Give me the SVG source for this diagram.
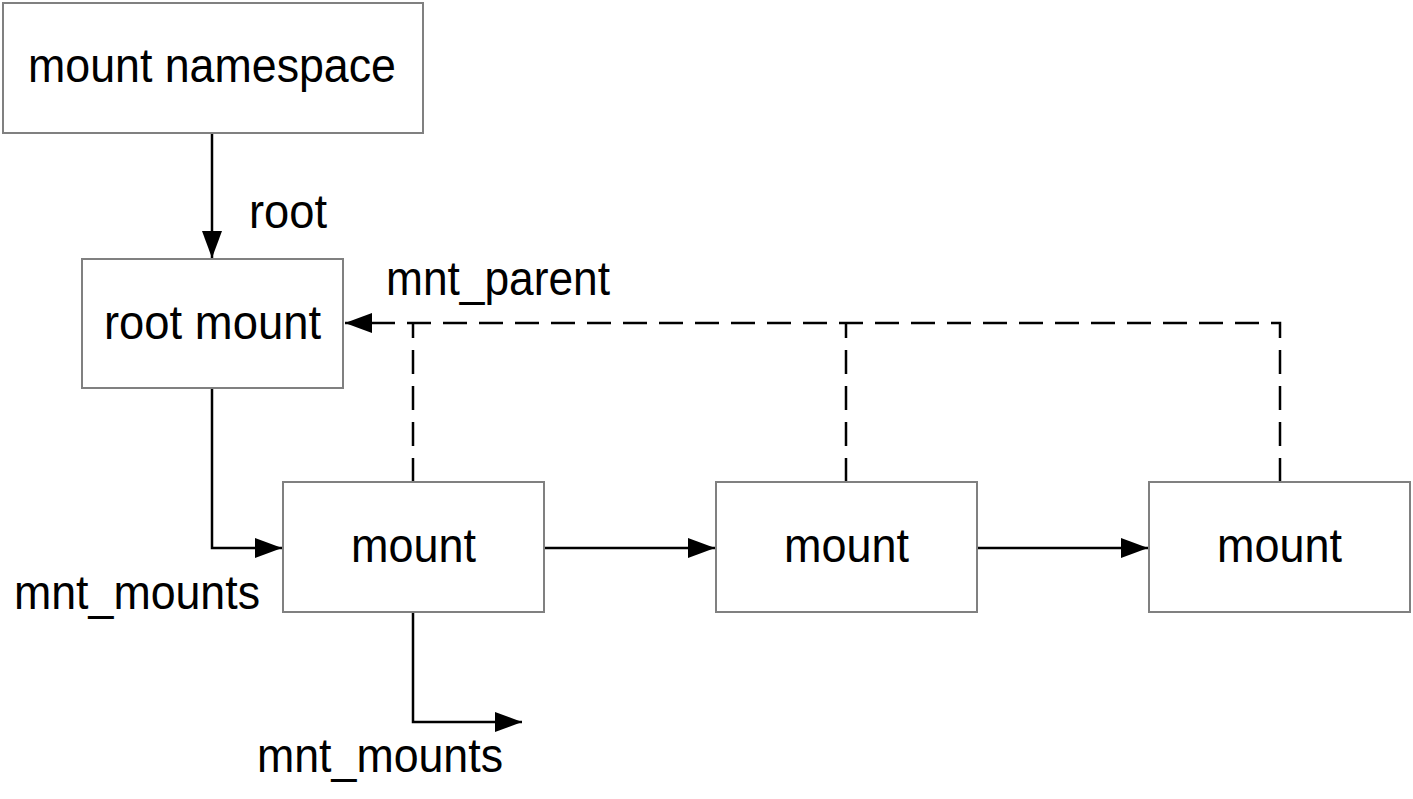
<svg xmlns="http://www.w3.org/2000/svg" width="1413" height="799" viewBox="0 0 1413 799">
  <style>
    .box { fill: #ffffff; stroke: #808080; stroke-width: 2; }
    .t { font-family: "Liberation Sans", Arial, Helvetica, sans-serif; font-size: 48px; fill: #000000; }
    .edge { fill: none; stroke: #000000; stroke-width: 2.5; }
    .dash { stroke-dasharray: 24 12; }
  </style>
  <defs>
    <marker id="arrow" markerUnits="userSpaceOnUse" markerWidth="27" markerHeight="20" refX="27" refY="10" orient="auto" viewBox="0 0 27 20">
      <path d="M0,0 L27,10 L0,20 Z" fill="#000000"/>
    </marker>
  </defs>
  <rect width="1413" height="799" fill="#ffffff"/>

  <g id="connectors">
    <path class="edge" d="M212 133 V258" marker-end="url(#arrow)"/>
    <path class="edge" d="M212 388 V548 H282" marker-end="url(#arrow)"/>
    <path class="edge" d="M544 548 H715" marker-end="url(#arrow)"/>
    <path class="edge" d="M977 548 H1148" marker-end="url(#arrow)"/>
    <path class="edge" d="M413 612 V722 H522" marker-end="url(#arrow)"/>
    <path class="edge dash" d="M1280 482 V323 H345" marker-end="url(#arrow)"/>
    <path class="edge dash" d="M846 482 V323"/>
    <path class="edge dash" d="M413 482 V323"/>
  </g>

  <g id="label-root"><text class="t" x="249" y="228" textLength="78" lengthAdjust="spacingAndGlyphs">root</text></g>
  <g id="label-mnt_parent"><text class="t" x="386" y="295" textLength="224" lengthAdjust="spacingAndGlyphs">mnt_parent</text></g>
  <g id="label-mnt_mounts-1"><text class="t" x="14" y="609" textLength="246" lengthAdjust="spacingAndGlyphs">mnt_mounts</text></g>
  <g id="label-mnt_mounts-2"><text class="t" x="257" y="772" textLength="246" lengthAdjust="spacingAndGlyphs">mnt_mounts</text></g>

  <g id="node-mount-namespace">
    <rect class="box" x="3" y="3" width="420" height="130"/>
    <text class="t" x="28" y="82" textLength="368" lengthAdjust="spacingAndGlyphs">mount namespace</text>
  </g>
  <g id="node-root-mount">
    <rect class="box" x="82" y="259" width="261" height="129"/>
    <text class="t" x="104" y="339" textLength="217" lengthAdjust="spacingAndGlyphs">root mount</text>
  </g>
  <g id="node-mount-1">
    <rect class="box" x="283" y="482" width="261" height="130"/>
    <text class="t" x="351" y="562" textLength="125" lengthAdjust="spacingAndGlyphs">mount</text>
  </g>
  <g id="node-mount-2">
    <rect class="box" x="716" y="482" width="261" height="130"/>
    <text class="t" x="784" y="562" textLength="125" lengthAdjust="spacingAndGlyphs">mount</text>
  </g>
  <g id="node-mount-3">
    <rect class="box" x="1149" y="482" width="261" height="130"/>
    <text class="t" x="1217" y="562" textLength="125" lengthAdjust="spacingAndGlyphs">mount</text>
  </g>
</svg>
